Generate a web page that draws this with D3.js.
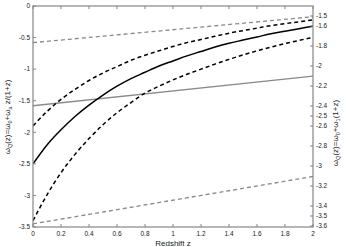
<!DOCTYPE html>
<html><head><meta charset="utf-8">
<script src="https://cdn.jsdelivr.net/npm/d3@7"></script>
<style>body{margin:0;background:#fff}svg{display:block}</style>
</head><body>
<svg id="c" width="346" height="247"></svg>
<script>
const zVals = [0,0.1,0.2,0.3,0.4,0.5,0.6,0.7,0.8,0.9,1.0,1.1,1.2,1.3,1.4,1.5,1.6,1.7,1.8,1.9,2.0];
const blackSolid = [-2.50,-2.20,-1.96,-1.75,-1.57,-1.41,-1.27,-1.15,-1.05,-0.95,-0.87,-0.79,-0.72,-0.65,-0.59,-0.54,-0.49,-0.44,-0.40,-0.36,-0.32];
const blackDashUpper = [-1.90,-1.67,-1.48,-1.32,-1.18,-1.06,-0.96,-0.86,-0.78,-0.71,-0.64,-0.58,-0.53,-0.48,-0.43,-0.39,-0.35,-0.31,-0.28,-0.25,-0.22];
const blackDashLower = [-3.40,-2.99,-2.64,-2.35,-2.10,-1.88,-1.69,-1.53,-1.38,-1.27,-1.17,-1.08,-1.00,-0.92,-0.845,-0.775,-0.71,-0.65,-0.595,-0.545,-0.495];
const grayZ = [0, 2];
const graySolid = [-1.58, -1.11];
const grayDashTop = [-0.58, -0.17];
const grayDashBottom = [-3.45, -2.70];
const xTicks = [0,0.2,0.4,0.6,0.8,1,1.2,1.4,1.6,1.8,2];
const xTickLabels = ["0","0.2","0.4","0.6","0.8","1","1.2","1.4","1.6","1.8","2"];
const leftTicks = [0,-0.5,-1,-1.5,-2,-2.5,-3,-3.5];
const leftTickLabels = ["0","-0.5","-1","-1.5","-2","-2.5","-3","-3.5"];
const rightTicks = [-1.5,-1.6,-1.8,-2,-2.2,-2.4,-2.5,-2.6,-2.8,-3,-3.2,-3.4,-3.5,-3.6];
const rightTickLabels = ["-1.5","-1.6","-1.8","-2","-2.2","-2.4","-2.5","-2.6","-2.8","-3","-3.2","-3.4","-3.5","-3.6"];

const svg = d3.select("#c");
const L = 33, R = 313, T = 6, B = 227;
const x = d3.scaleLinear().domain([0,2]).range([L,R]);
const yL = d3.scaleLinear().domain([-3.5,0]).range([B,T]);
const yR = d3.scaleLinear().domain([-3.6,-1.5]).range([226,16]);
const font = "Liberation Sans, Arial, Helvetica, sans-serif";
const axisCol = "#858585";
const txtCol = "#222";

svg.append("defs").append("clipPath").attr("id","clip")
  .append("rect").attr("x",L).attr("y",T).attr("width",R-L).attr("height",B-T);

const g = svg.append("g").attr("clip-path","url(#clip)");
const line = (ys) => d3.line().x((d,i)=>x(zVals[i])).y(d=>yL(d)).curve(d3.curveMonotoneX)(ys);
const gline = (ys) => d3.line().x((d,i)=>x(grayZ[i])).y(d=>yL(d))(ys);

g.append("path").attr("d",gline(grayDashTop)).attr("fill","none").attr("stroke","#8a8a8a").attr("stroke-width",1.3).attr("stroke-dasharray","4,3");
g.append("path").attr("d",gline(graySolid)).attr("fill","none").attr("stroke","#8a8a8a").attr("stroke-width",1.3);
g.append("path").attr("d",gline(grayDashBottom)).attr("fill","none").attr("stroke","#8a8a8a").attr("stroke-width",1.3).attr("stroke-dasharray","4,3");
g.append("path").attr("d",line(blackDashUpper)).attr("fill","none").attr("stroke","#000").attr("stroke-width",1.5).attr("stroke-dasharray","4,3");
g.append("path").attr("d",line(blackSolid)).attr("fill","none").attr("stroke","#000").attr("stroke-width",1.5);
g.append("path").attr("d",line(blackDashLower)).attr("fill","none").attr("stroke","#000").attr("stroke-width",1.5).attr("stroke-dasharray","4,3");

// box
svg.append("rect").attr("x",L).attr("y",T).attr("width",R-L).attr("height",B-T)
  .attr("fill","none").attr("stroke",axisCol).attr("stroke-width",1.2);

const ax = svg.append("g");
xTicks.forEach((t,i)=>{
  ax.append("line").attr("x1",x(t)).attr("x2",x(t)).attr("y1",B).attr("y2",B-3).attr("stroke",axisCol);
  ax.append("line").attr("x1",x(t)).attr("x2",x(t)).attr("y1",T).attr("y2",T+3).attr("stroke",axisCol);
  ax.append("text").attr("x",x(t)).attr("y",B+8.5).attr("text-anchor","middle")
    .attr("font-family",font).attr("font-size",6.5).attr("fill",txtCol).text(xTickLabels[i]);
});
leftTicks.forEach((t,i)=>{
  ax.append("line").attr("x1",L).attr("x2",L+3).attr("y1",yL(t)).attr("y2",yL(t)).attr("stroke",axisCol);
  ax.append("text").attr("x",L-3).attr("y",yL(t)+2.3).attr("text-anchor","end")
    .attr("font-family",font).attr("font-size",6.5).attr("fill",txtCol).text(leftTickLabels[i]);
});
rightTicks.forEach((t,i)=>{
  ax.append("line").attr("x1",R).attr("x2",R-3).attr("y1",yR(t)).attr("y2",yR(t)).attr("stroke",axisCol);
  ax.append("text").attr("x",R+3).attr("y",yR(t)+2.3).attr("text-anchor","start")
    .attr("font-family",font).attr("font-size",6.5).attr("fill",txtCol).text(rightTickLabels[i]);
});

svg.append("text").attr("x",(L+R)/2).attr("y",245.5).attr("text-anchor","middle")
  .attr("font-family",font).attr("font-size",8).attr("fill",txtCol).text("Redshift z");

function ylabel(cx, cy, parts){
  const t = svg.append("text").attr("transform",`translate(${cx},${cy}) rotate(-90)`)
    .attr("text-anchor","middle").attr("font-family",font).attr("font-size",8).attr("fill",txtCol);
  parts.forEach(p=>{
    const s = t.append("tspan").text(p[0]);
    if(p[1]) s.attr("font-size",5.5).attr("dy",2);
    if(p[2]) s.attr("dy",-2);
  });
}
ylabel(10, 117, [["ω"],["Q",1],["(z)=ω",0,1],["0",1],["+ω",0,1],["a",1],[" z/(1+z)",0,1]]);
ylabel(338, 133, [["ω"],["Q",1],["(z)=ω",0,1],["0",1],["+ω",0,1],["1",1],["(1+z)",0,1]]);
</script>
</body></html>
